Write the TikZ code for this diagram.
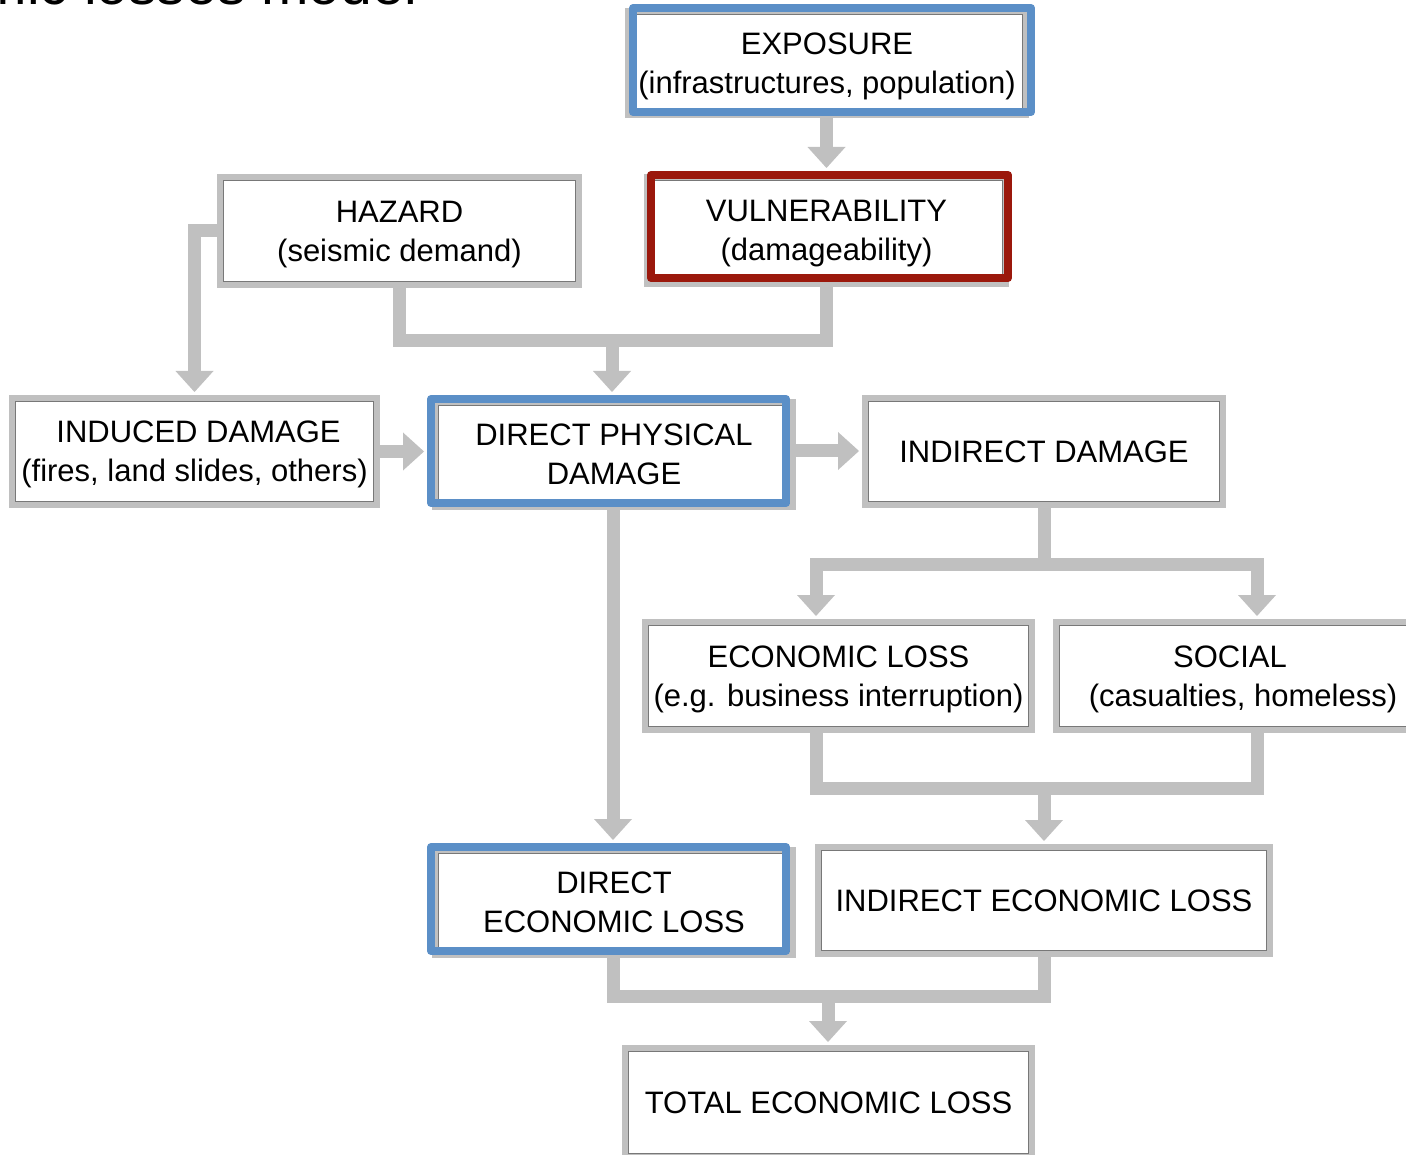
\documentclass[tikz,border=0pt]{standalone}
\usepackage{fontspec}
\setmainfont{Liberation Sans}
\usetikzlibrary{arrows.meta,backgrounds}
\definecolor{cgray}{RGB}{192,192,192}
\definecolor{fgray}{RGB}{192,192,192}
\definecolor{lgray}{RGB}{120,120,120}
\definecolor{hblue}{RGB}{91,143,199}
\definecolor{hred}{RGB}{155,24,12}
\tikzset{
  frame/.style={draw=fgray, line width=6pt, fill=white, inner sep=0pt,
    align=center, font=\fontsize{31}{39}\selectfont,
    path picture={\draw[lgray, line width=1pt]
      ([shift={(3.5pt,-3.5pt)}]path picture bounding box.north west) rectangle
      ([shift={(-3.5pt,3.5pt)}]path picture bounding box.south east);}},
  lowtxt/.style={text depth=0pt},
  hl/.style={draw=#1, line width=8pt, inner sep=0pt, line join=round},
  conn/.style={draw=cgray, line width=13pt},
  arr/.style={conn, -{Triangle[width=38pt,length=21pt,line width=0pt]}, shorten >=3pt},
}
\begin{document}
\begin{tikzpicture}[x=1pt,y=-1pt]
\useasboundingbox (0,0) rectangle (1406,1155);
\begin{scope}
\clip (0,0) rectangle (1406,1155);
% title (cut off at top)
\node[anchor=base east, inner sep=0pt, font=\fontsize{57}{60}\selectfont] (title) at (417,5) {Seismic losses model};
% plain boxes
\node[frame, lowtxt, minimum width=359pt, minimum height=108pt] (haz) at (399.5,231) {HAZARD\\(seismic demand)};
\node[frame, lowtxt, minimum width=365pt, minimum height=107pt] (ind) at (194.5,451.5) {\hspace*{8pt}INDUCED DAMAGE\\(fires, land slides, others)};
\node[frame, lowtxt, minimum width=358pt, minimum height=107pt] (indir) at (1044,451.5) {INDIRECT DAMAGE};
\node[frame, lowtxt, minimum width=387pt, minimum height=108pt] (econ) at (838.5,676) {ECONOMIC LOSS\\(e.g. business interruption)};
\node[frame, lowtxt, minimum width=374pt, minimum height=108pt] (soc) at (1243,676) {SOCIAL\hspace*{26pt}\\(casualties, homeless)};
\node[frame, lowtxt, minimum width=452pt, minimum height=107pt] (iel) at (1044,900.5) {INDIRECT ECONOMIC LOSS};
\node[frame, lowtxt, minimum width=407pt, minimum height=109pt] (tot) at (828.5,1102.5) {TOTAL ECONOMIC LOSS};
% highlighted boxes: grey frame underneath, coloured border on top
\node[frame, lowtxt, minimum width=398pt, minimum height=104pt] (expF) at (827,63) {EXPOSURE\\(infrastructures, population)};
\node[hl=hblue, minimum width=398pt, minimum height=104pt] (exp) at (832,60) {};
\node[frame, lowtxt, minimum width=359pt, minimum height=107pt] (vulF) at (826.5,230.5) {VULNERABILITY\\(damageability)};
\node[hl=hred, minimum width=357pt, minimum height=103pt] (vul) at (829.5,226.5) {};
\node[frame, minimum width=358pt, minimum height=105pt] (dpdF) at (614,454.5) {DIRECT PHYSICAL\\DAMAGE};
\node[hl=hblue, minimum width=355pt, minimum height=104pt] (dpd) at (608.5,451) {};
\node[frame, minimum width=358pt, minimum height=105pt] (delF) at (614,902.5) {DIRECT\\ECONOMIC LOSS};
\node[hl=hblue, minimum width=355pt, minimum height=104pt] (del) at (608.5,899) {};
\end{scope}
% connectors
\coordinate (j1) at (612,341);
\coordinate (j2) at (1044,564);
\coordinate (j3) at (1044,788);
\coordinate (j4) at (828,996);
\coordinate (xE) at (816,0);
\coordinate (xS) at (1257,0);
\coordinate (xD) at (613,0);
\begin{pgfonlayer}{background}
\fill[white] (0,0) rectangle (1406,1155);
\draw[arr] (expF.south -| vulF.south) -- (vulF.south |- vul.north);
\draw[conn] (haz.south) |- (j1) -| (vulF.south);
\draw[arr] (j1) -- (j1 |- dpd.north);
\draw[arr] (haz.west) -| (ind.north);
\draw[arr] (ind.east) -- (ind.east -| dpd.west);
\draw[arr] (dpd.east) -- (dpd.east -| indir.west);
\draw[conn] (indir.south) -- (j2);
\draw[arr] (j2) -| (econ.north -| xE);
\draw[arr] (j2) -| (soc.north -| xS);
\draw[conn] (econ.south -| xE) |- (j3) -| (soc.south -| xS);
\draw[arr] (j3) -- (j3 |- iel.north);
\draw[arr] (dpdF.south -| xD) -- (del.north -| xD);
\draw[conn] (delF.south -| xD) |- (j4) -| (iel.south);
\draw[arr] (j4) -- (j4 |- tot.north);
\end{pgfonlayer}
\end{tikzpicture}
\end{document}
